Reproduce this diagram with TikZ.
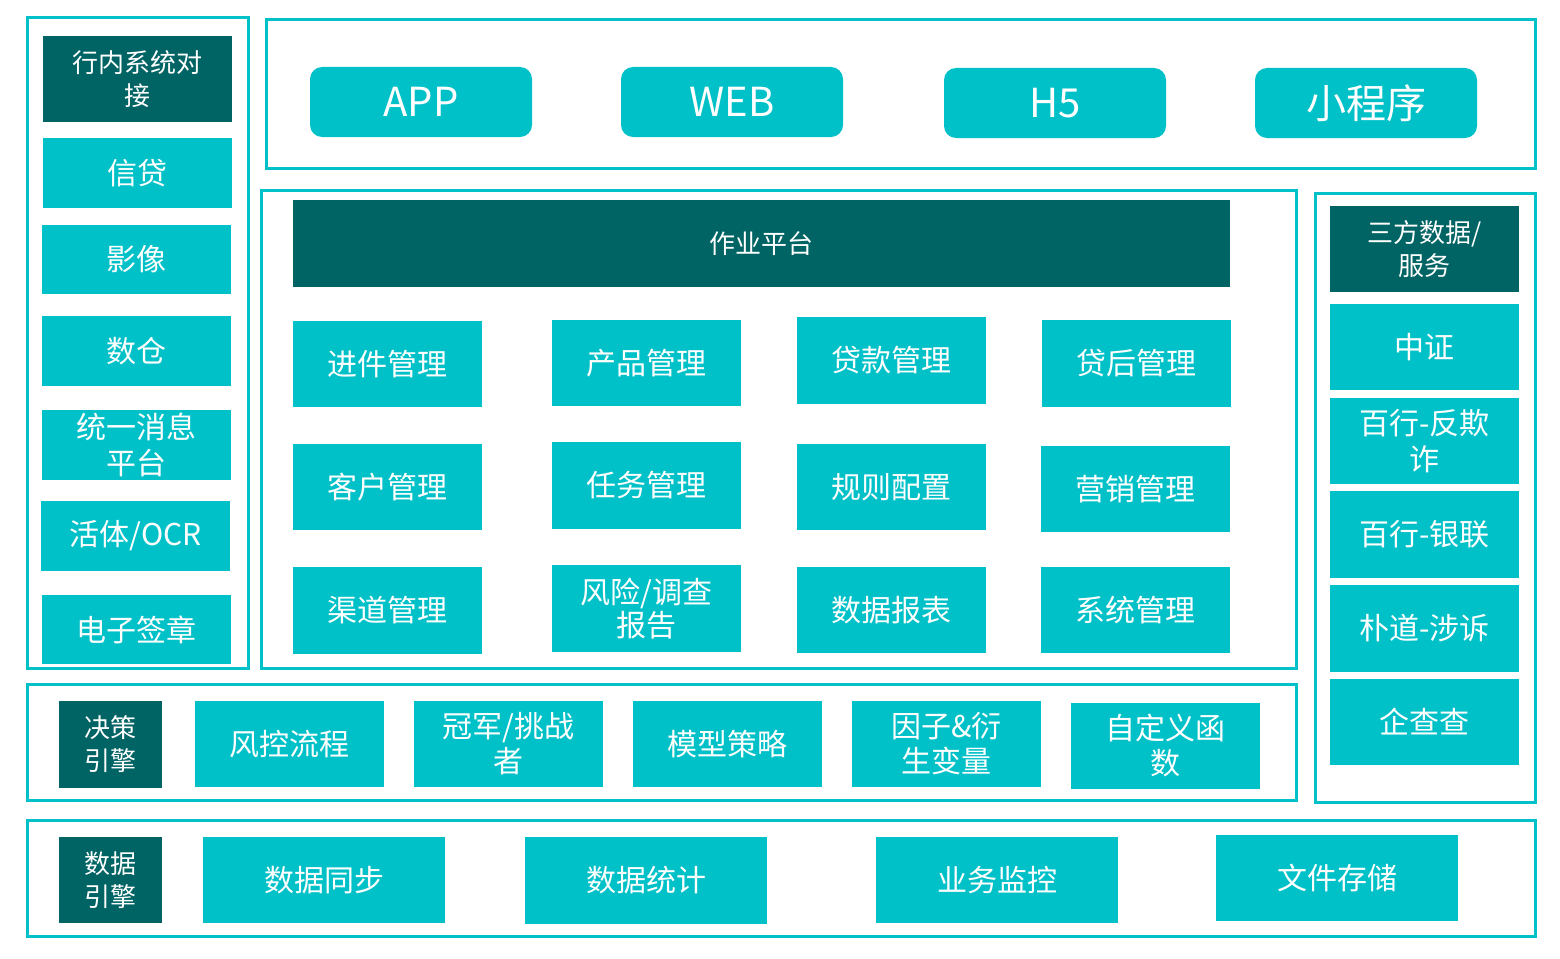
\documentclass[tikz,border=0pt]{standalone}
\usepackage{fontspec}
\setmainfont{Noto Sans CJK SC}
\definecolor{cy}{RGB}{0,193,200}
\definecolor{dk}{RGB}{0,99,100}
\newcommand\bx[7]{\node[#6, minimum width={#4-#2}, minimum height={#5-#3}] (#1) at ({(#2+#4)/2},{(#3+#5)/2}) {#7};}
\newcommand\frm[5]{\draw[frame] (#2,#3) rectangle (#4,#5) coordinate (#1);}
\begin{document}
\begin{tikzpicture}[x=1pt,y=-1pt,
  frame/.style={draw=cy, line width=3pt},
  lt/.style={fill=cy, text=white, inner sep=0pt, outer sep=0pt, align=center, font=\fontsize{30}{36}\selectfont},
  dkb/.style={fill=dk, text=white, inner sep=0pt, outer sep=0pt, align=center, font=\fontsize{26}{33}\selectfont},
  btn/.style={lt, rounded corners=12pt, font=\fontsize{40}{44}\selectfont}]
\useasboundingbox (0,0) rectangle (1560,958);
% frames
\frm{fl}{27}{18}{248}{668}
\frm{ft}{266}{20}{1535}{168}
\frm{fm}{261}{190}{1296}{668}
\frm{fr}{1315}{193}{1535}{802}
\frm{fd}{27}{684}{1296}{800}
\frm{fs}{27}{820}{1535}{936}
% left column
\bx{l0}{43}{36}{232}{122}{dkb}{行内系统对\\接}
\bx{l1}{43}{138}{232}{208}{lt}{信贷}
\bx{l2}{42}{225}{231}{294}{lt}{影像}
\bx{l3}{42}{316}{231}{386}{lt}{数仓}
\bx{l4}{42}{410}{231}{480}{lt}{统一消息\\平台}
\bx{l5}{41}{501}{230}{571}{lt}{活体/OCR}
\bx{l6}{42}{595}{231}{664}{lt}{电子签章}
% top buttons
\bx{t1}{310}{67}{532}{137}{btn}{APP}
\bx{t2}{621}{67}{843}{137}{btn}{WEB}
\bx{t3}{944}{68}{1166}{138}{btn}{H5}
\bx{t4}{1255}{68}{1477}{138}{btn}{小程序}
% middle
\bx{m0}{293}{200}{1230}{287}{dkb}{作业平台}
\bx{m11}{293}{321}{482}{407}{lt}{进件管理}
\bx{m12}{552}{320}{741}{406}{lt}{产品管理}
\bx{m13}{797}{317}{986}{404}{lt}{贷款管理}
\bx{m14}{1042}{320}{1231}{407}{lt}{贷后管理}
\bx{m21}{293}{444}{482}{530}{lt}{客户管理}
\bx{m22}{552}{442}{741}{529}{lt}{任务管理}
\bx{m23}{797}{444}{986}{530}{lt}{规则配置}
\bx{m24}{1041}{446}{1230}{532}{lt}{营销管理}
\bx{m31}{293}{567}{482}{654}{lt}{渠道管理}
\bx{m32}{552}{565}{741}{652}{lt, font=\fontsize{30}{33}\selectfont}{风险/调查\\报告}
\bx{m33}{797}{567}{986}{653}{lt}{数据报表}
\bx{m34}{1041}{567}{1230}{653}{lt}{系统管理}
% right
\bx{r0}{1330}{206}{1519}{292}{dkb}{三方数据/\\服务}
\bx{r1}{1330}{304}{1519}{390}{lt}{中证}
\bx{r2}{1330}{398}{1519}{484}{lt}{百行-反欺\\诈}
\bx{r3}{1330}{491}{1519}{578}{lt}{百行-银联}
\bx{r4}{1330}{585}{1519}{672}{lt}{朴道-涉诉}
\bx{r5}{1330}{679}{1519}{765}{lt}{企查查}
% decision row
\bx{d0}{59}{701}{162}{788}{dkb}{决策\\引擎}
\bx{d1}{195}{701}{384}{787}{lt}{风控流程}
\bx{d2}{414}{701}{603}{787}{lt, font=\fontsize{30}{35}\selectfont}{冠军/挑战\\者}
\bx{d3}{633}{701}{822}{787}{lt}{模型策略}
\bx{d4}{852}{701}{1041}{787}{lt, font=\fontsize{30}{35}\selectfont}{因子\&衍\\生变量}
\bx{d5}{1071}{703}{1260}{789}{lt, font=\fontsize{30}{35}\selectfont}{自定义函\\数}
% data row
\bx{s0}{59}{837}{162}{923}{dkb}{数据\\引擎}
\bx{s1}{203}{837}{445}{923}{lt}{数据同步}
\bx{s2}{525}{837}{767}{924}{lt}{数据统计}
\bx{s3}{876}{837}{1118}{923}{lt}{业务监控}
\bx{s4}{1216}{835}{1458}{921}{lt}{文件存储}
\end{tikzpicture}
\end{document}
